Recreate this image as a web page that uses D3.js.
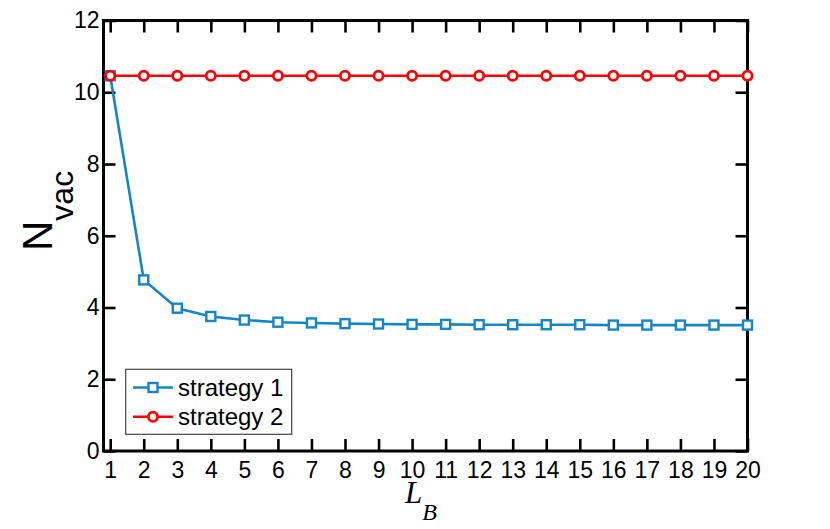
<!DOCTYPE html>
<html>
<head>
<meta charset="utf-8">
<script src="https://cdn.jsdelivr.net/npm/d3@7"></script>
<style>
  body { margin: 0; background: #fff; }
  svg { display: block; }
</style>
</head>
<body>
<div id="chart"></div>
<script>
"use strict";

// values
const lb = [1, 2, 3, 4, 5, 6, 7, 8, 9, 10, 11, 12, 13, 14, 15, 16, 17, 18, 19, 20];
const strategy1 = [10.46, 4.77, 3.98, 3.75, 3.65, 3.59, 3.57, 3.55, 3.54, 3.53,
  3.53, 3.52, 3.52, 3.52, 3.52, 3.51, 3.51, 3.51, 3.51, 3.51];
const strategy2 = [10.46, 10.46, 10.46, 10.46, 10.46, 10.46, 10.46, 10.46, 10.46, 10.46,
  10.46, 10.46, 10.46, 10.46, 10.46, 10.46, 10.46, 10.46, 10.46, 10.46];
const yTicks = [0, 2, 4, 6, 8, 10, 12];
const seriesNames = ["strategy 1", "strategy 2"];

const W = 830;
const H = 529;
const plotL = 103.5, plotR = 747.5, plotT = 20.5, plotB = 451;
const blue = "#1585c8";
const red = "#ff0000";

const svg = d3.select("#chart").append("svg")
  .attr("width", W)
  .attr("height", H);

const x = d3.scaleLinear().domain([0.8, 20]).range([plotL, plotR]);
const y = d3.scaleLinear().domain([0, 12]).range([plotB, plotT]);

//axes, ticks pointing inward
const styleAxis = function (g) {
  g.select(".domain").remove();
  g.selectAll(".tick line").attr("stroke", "#000").attr("stroke-width", 2.6);
  g.selectAll(".tick text")
    .attr("fill", "#000")
    .attr("font-family", "Liberation Sans, Arial, sans-serif")
    .attr("font-size", "23px");
};

svg.append("g")
  .attr("transform", `translate(0,${plotB})`)
  .call(d3.axisBottom(x).tickValues(lb).tickFormat(d3.format("d"))
    .tickSizeInner(-12).tickSizeOuter(0).tickPadding(10.5))
  .call(styleAxis);

svg.append("g")
  .attr("transform", `translate(0,${plotT})`)
  .call(d3.axisTop(x).tickValues(lb).tickFormat("")
    .tickSizeInner(-12).tickSizeOuter(0))
  .call(styleAxis);

svg.append("g")
  .attr("transform", `translate(${plotL},0)`)
  .call(d3.axisLeft(y).tickValues(yTicks).tickFormat(d3.format("d"))
    .tickSizeInner(-12).tickSizeOuter(0).tickPadding(4))
  .call(styleAxis);

svg.append("g")
  .attr("transform", `translate(${plotR},0)`)
  .call(d3.axisRight(y).tickValues(yTicks).tickFormat("")
    .tickSizeInner(-12).tickSizeOuter(0))
  .call(styleAxis);

svg.append("rect")
  .attr("x", plotL)
  .attr("y", plotT)
  .attr("width", plotR - plotL)
  .attr("height", plotB - plotT)
  .attr("fill", "none")
  .attr("stroke", "#000")
  .attr("stroke-width", 3);

//lines
const line = d3.line()
  .x((d, i) => x(lb[i]))
  .y((d) => y(d));

svg.append("path")
  .datum(strategy1)
  .attr("d", line)
  .attr("fill", "none")
  .attr("stroke", blue)
  .attr("stroke-width", 2.6);

svg.selectAll(".sq")
  .data(strategy1)
  .enter()
  .append("rect")
  .attr("class", "sq")
  .attr("x", (d, i) => x(lb[i]) - 4.5)
  .attr("y", (d) => y(d) - 4.5)
  .attr("width", 9)
  .attr("height", 9)
  .attr("fill", "#fff")
  .attr("stroke", blue)
  .attr("stroke-width", 2.4);

svg.append("path")
  .datum(strategy2)
  .attr("d", line)
  .attr("fill", "none")
  .attr("stroke", red)
  .attr("stroke-width", 2.6);

svg.selectAll(".circ")
  .data(strategy2)
  .enter()
  .append("circle")
  .attr("class", "circ")
  .attr("cx", (d, i) => x(lb[i]))
  .attr("cy", (d) => y(d))
  .attr("r", 4.6)
  .attr("fill", "#fff")
  .attr("stroke", red)
  .attr("stroke-width", 2.8);

//legend
const legend = svg.append("g");
legend.append("rect")
  .attr("x", 125.7)
  .attr("y", 369.3)
  .attr("width", 166)
  .attr("height", 65)
  .attr("fill", "#fff")
  .attr("stroke", "#444")
  .attr("stroke-width", 1.2);

const rows = [
  { name: seriesNames[0], color: blue, shape: "square", cy: 387.5 },
  { name: seriesNames[1], color: red, shape: "circle", cy: 416.7 },
];

rows.forEach((r) => {
  legend.append("line")
    .attr("x1", 133).attr("x2", 173)
    .attr("y1", r.cy).attr("y2", r.cy)
    .attr("stroke", r.color)
    .attr("stroke-width", 2.6);
  if (r.shape === "square") {
    legend.append("rect")
      .attr("x", 153 - 4.5).attr("y", r.cy - 4.5)
      .attr("width", 9).attr("height", 9)
      .attr("fill", "#fff")
      .attr("stroke", r.color)
      .attr("stroke-width", 2.4);
  } else {
    legend.append("circle")
      .attr("cx", 153).attr("cy", r.cy).attr("r", 4.6)
      .attr("fill", "#fff")
      .attr("stroke", r.color)
      .attr("stroke-width", 2.8);
  }
  legend.append("text")
    .attr("x", 178)
    .attr("y", r.cy + 8.5)
    .attr("font-family", "Liberation Sans, Arial, sans-serif")
    .attr("font-size", "24px")
    .attr("fill", "#000")
    .text(r.name);
});

//axis titles
const yTitle = svg.append("text")
  .attr("transform", "translate(51.7,251) rotate(-90)")
  .attr("font-family", "Liberation Sans, Arial, sans-serif")
  .attr("fill", "#000");
yTitle.append("tspan").attr("font-size", "42px").text("N");
yTitle.append("tspan").attr("font-size", "32px").attr("dy", 21.6).text("vac");

const xTitle = svg.append("text")
  .attr("x", 405)
  .attr("y", 503)
  .attr("font-family", "Liberation Serif, Times New Roman, serif")
  .attr("font-style", "italic")
  .attr("fill", "#000");
xTitle.append("tspan").attr("font-size", "31px").text("L");
xTitle.append("tspan").attr("font-size", "24px").attr("dy", 17).text("B");
</script>
</body>
</html>
